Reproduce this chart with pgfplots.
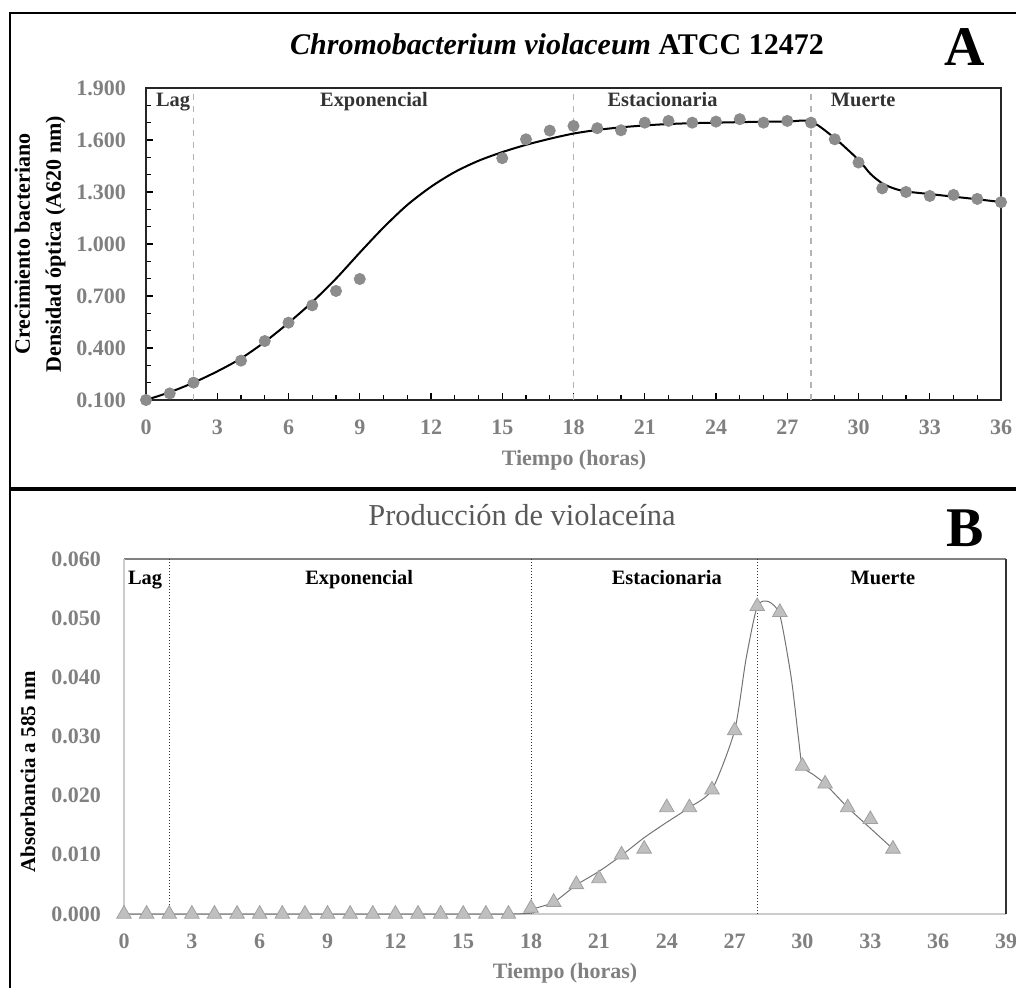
\documentclass[border=0pt]{standalone}
\usepackage{fontspec}
\setmainfont{Liberation Serif}
\usepackage{pgfplots}
\usepackage{pgfplotstable}
\pgfplotsset{compat=1.18}

\definecolor{tickgray}{HTML}{808080}
\definecolor{dotgray}{HTML}{8C8C8C}
\definecolor{trifill}{HTML}{BFBFBF}
\definecolor{tridraw}{HTML}{A0A0A0}
\definecolor{phasegray}{HTML}{B4B4B4}
\definecolor{titlegray}{HTML}{595959}

% growth data (panel A)
\pgfplotstableread{
t od
0 0.100
1 0.138
2 0.200
4 0.327
5 0.440
6 0.546
7 0.646
8 0.729
9 0.798
15 1.495
16 1.604
17 1.654
18 1.681
19 1.668
20 1.656
21 1.700
22 1.710
23 1.700
24 1.706
25 1.720
26 1.700
27 1.710
28 1.700
29 1.604
30 1.470
31 1.321
32 1.300
33 1.277
34 1.283
35 1.260
36 1.241
}\growth

% fitted curve
\pgfplotstableread{
t od
0 0.100
1 0.145
2 0.200
3 0.265
4 0.340
5 0.435
6 0.545
7 0.665
8 0.800
9 0.950
10 1.095
11 1.225
12 1.330
13 1.415
14 1.480
15 1.530
16 1.572
17 1.607
18 1.637
19 1.658
20 1.673
21 1.684
22 1.692
23 1.697
24 1.700
25 1.703
26 1.705
27 1.706
28 1.706
29 1.610
30 1.485
30.5 1.405
31 1.350
31.5 1.320
32 1.303
33 1.288
34 1.273
35 1.258
36 1.242
}\growthfit

% violacein (panel B)
\pgfplotstableread{
t a
0 0
1 0
2 0
3 0
4 0
5 0
6 0
7 0
8 0
9 0
10 0
11 0
12 0
13 0
14 0
15 0
16 0
17 0
18 0.001
19 0.002
20 0.005
21 0.006
22 0.010
23 0.011
24 0.018
25 0.018
26 0.021
27 0.031
28 0.052
29 0.051
30 0.025
31 0.022
32 0.018
33 0.016
34 0.011
}\viola

\pgfplotstableread{
t a
0 0
17 0
18 0.0008
19 0.0020
20 0.0049
21 0.0072
22 0.0099
23 0.0129
24 0.0155
25 0.0180
26 0.0210
27 0.0310
27.5 0.0430
28 0.0520
28.5 0.0528
29 0.0505
29.5 0.0400
29.83 0.0295
30 0.0250
30.5 0.0235
31 0.0220
32 0.0180
33 0.0145
34 0.0110
}\violafit

\begin{document}
\begin{tikzpicture}
\useasboundingbox (0,0) rectangle (508pt,494pt);
% panel frames
\draw[line width=1pt] (5pt,487.5pt) rectangle (520pt,250pt);
\draw[line width=1pt] (5pt,249pt) rectangle (520pt,-10pt);

\begin{axis}[
  at={(73pt,294pt)}, anchor=south west,
  scale only axis, width=427.5pt, height=156pt,
  xmin=0, xmax=36, ymin=0.1, ymax=1.9,
  xtick={0,3,...,36},
  ytick={0.1,0.4,0.7,1.0,1.3,1.6,1.9},
  minor x tick num=2, minor y tick num=2,
  xtick pos=bottom, ytick pos=left,
  tick align=inside,
  major tick length=3.4pt, minor tick length=2.5pt,
  tick style={black, line width=0.6pt},
  axis line style={black!85, line width=0.8pt},
  /pgf/number format/assume math mode=true,
  y tick label style={/pgf/number format/fixed, /pgf/number format/fixed zerofill, /pgf/number format/precision=3},
  ticklabel style={font=\bfseries\fontsize{11}{13}\selectfont, text=tickgray},
  yticklabel style={xshift=-6.5pt},
  xticklabel style={yshift=-6.5pt},
  clip=false,
]
\addplot[phasegray, dashed, line width=0.6pt] coordinates {(2,0.1) (2,1.9)};
\addplot[phasegray, dashed, line width=0.6pt] coordinates {(18,0.1) (18,1.9)};
\addplot[phasegray, dashed, line width=0.6pt] coordinates {(28,0.1) (28,1.9)};
\addplot[only marks, mark=*, mark size=2.8pt, dotgray, mark options={draw=none, fill=dotgray}]
  table[x=t, y=od] {\growth};
\addplot[black, line width=1pt, smooth, tension=0.5] table[x=t, y=od] {\growthfit};
\tikzset{phase/.style={anchor=base, font=\bfseries\fontsize{10.2}{12}\selectfont, text=black!80}}
\node[phase] at (axis cs:1.14,1.796) {Lag};
\node[phase] at (axis cs:9.6,1.796) {Exponencial};
\node[phase] at (axis cs:21.75,1.796) {Estacionaria};
\node[phase] at (axis cs:30.2,1.796) {Muerte};
\end{axis}

\begin{axis}[
  at={(62pt,37pt)}, anchor=south west,
  scale only axis, width=441pt, height=177.5pt,
  xmin=0, xmax=39, ymin=0, ymax=0.06,
  xtick={0,3,...,39},
  ytick={0,0.01,0.02,0.03,0.04,0.05,0.06},
  scaled y ticks=false,
  major tick length=0pt,
  axis line style={draw=none},
  /pgf/number format/assume math mode=true,
  y tick label style={/pgf/number format/fixed, /pgf/number format/fixed zerofill, /pgf/number format/precision=3},
  ticklabel style={font=\bfseries\fontsize{11}{13}\selectfont, text=tickgray},
  yticklabel style={xshift=-8pt},
  xticklabel style={yshift=-6.3pt},
  clip=false,
]
\draw[black!50, line width=0.8pt] (rel axis cs:0,1) -- (rel axis cs:1,1);
\draw[black!20, line width=0.8pt] (rel axis cs:0,0) -- (rel axis cs:0,1);
\draw[black!20, line width=0.8pt] (rel axis cs:0,0) -- (rel axis cs:1,0);
\draw[black!80, line width=0.9pt] (rel axis cs:1,0) -- (rel axis cs:1,1);
\addplot[black!80, densely dotted, line width=0.5pt] coordinates {(2,0) (2,0.06)};
\addplot[black!80, densely dotted, line width=0.5pt] coordinates {(18,0) (18,0.06)};
\addplot[black!80, densely dotted, line width=0.5pt] coordinates {(28,0) (28,0.06)};
\addplot[black!55, line width=0.5pt, smooth, tension=0.4] table[x=t, y=a] {\violafit};
\addplot[only marks, mark=triangle*, mark size=4.2pt, mark options={fill=trifill, draw=tridraw, line width=0.4pt}]
  table[x=t, y=a] {\viola};
\tikzset{phase/.style={anchor=base, font=\bfseries\fontsize{10.2}{12}\selectfont}}
\node[phase] at (axis cs:0.93,0.05565) {Lag};
\node[phase] at (axis cs:10.4,0.05565) {Exponencial};
\node[phase] at (axis cs:24.0,0.05565) {Estacionaria};
\node[phase] at (axis cs:33.56,0.05565) {Muerte};
\end{axis}

% titles and labels
\node[font=\bfseries\fontsize{15}{17}\selectfont] at (278.5pt,472pt) {\textit{Chromobacterium violaceum} ATCC 12472};
\node[font=\bfseries\fontsize{28}{30}\selectfont] at (482.5pt,470.5pt) {A};
\node[font=\bfseries\fontsize{11}{13}\selectfont, rotate=90, align=center] at (20pt,372pt) {Crecimiento bacteriano\\[2.5pt]Densidad óptica (A620 nm)};
\node[font=\bfseries\fontsize{11}{13}\selectfont, text=tickgray] at (287pt,264pt) {Tiempo (horas)};

\node[font=\fontsize{15.2}{17}\selectfont, text=titlegray] at (261pt,236.5pt) {Producción de violaceína};
\node[font=\bfseries\fontsize{28}{30}\selectfont] at (482.5pt,230pt) {B};
\node[font=\bfseries\fontsize{10.5}{12}\selectfont, rotate=90] at (14pt,108pt) {Absorbancia a 585 nm};
\node[font=\bfseries\fontsize{11}{13}\selectfont, text=tickgray] at (282.5pt,7.5pt) {Tiempo (horas)};
\end{tikzpicture}
\end{document}
